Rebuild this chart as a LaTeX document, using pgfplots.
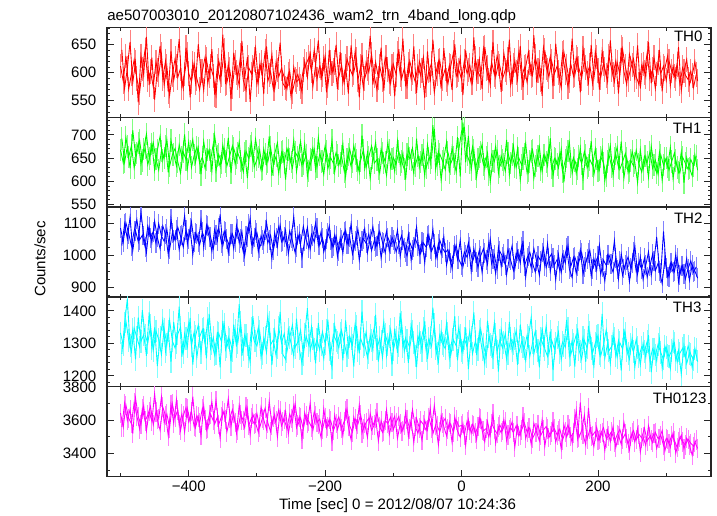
\documentclass[border=0pt]{standalone}
\usepackage{fontspec}
\setmainfont{Liberation Sans}
\usepackage{pgfplots}
\usepackage{pgfplotstable}
\pgfplotsset{compat=1.18}

% two interleaved 4-s sample sets: set a starts at t=-500 s, set b at t=-498 s
\pgfplotstableread[row sep=\\,header=false]{
612\\585\\630\\571\\598\\623\\590\\565\\607\\641\\
588\\602\\575\\619\\596\\633\\578\\611\\560\\597\\
625\\592\\608\\573\\645\\599\\584\\616\\589\\570\\
603\\628\\581\\611\\594\\560\\622\\597\\640\\583\\
606\\575\\618\\592\\631\\587\\569\\609\\598\\624\\
579\\613\\596\\638\\585\\602\\571\\619\\593\\608\\
592\\571\\603\\566\\588\\597\\575\\606\\615\\627\\
603\\641\\589\\612\\596\\630\\577\\618\\604\\650\\
592\\614\\583\\625\\608\\596\\639\\587\\611\\573\\
619\\601\\633\\594\\570\\612\\588\\627\\606\\581\\
615\\597\\642\\589\\608\\576\\621\\600\\584\\612\\
595\\628\\579\\603\\617\\565\\598\\622\\590\\607\\
580\\611\\636\\594\\605\\588\\621\\599\\614\\583\\
626\\602\\591\\643\\608\\586\\619\\597\\630\\612\\
589\\605\\624\\578\\614\\600\\637\\592\\609\\583\\
618\\596\\629\\604\\587\\645\\610\\593\\621\\598\\
612\\586\\634\\601\\575\\616\\594\\627\\608\\590\\
623\\599\\613\\581\\638\\604\\592\\617\\595\\629\\
606\\584\\619\\597\\642\\611\\588\\608\\625\\593\\
579\\613\\601\\635\\590\\606\\572\\618\\599\\612\\
586\\621\\603\\594\\615\\580\\609\\596\\588\\603\\
574\\597\\
}\dAa
\pgfplotstableread[row sep=\\,header=false]{
641\\572\\608\\655\\583\\619\\547\\630\\596\\664\\
578\\627\\552\\605\\648\\590\\621\\566\\639\\587\\
612\\660\\574\\598\\633\\556\\617\\582\\651\\603\\
569\\624\\594\\642\\561\\611\\586\\668\\580\\615\\
553\\636\\600\\577\\657\\589\\628\\548\\610\\644\\
584\\618\\562\\647\\596\\633\\571\\605\\654\\581\\
573\\598\\557\\610\\584\\589\\566\\620\\592\\638\\
575\\614\\658\\587\\626\\565\\641\\599\\618\\571\\
637\\582\\611\\563\\649\\601\\624\\556\\632\\590\\
607\\666\\579\\619\\591\\645\\568\\628\\585\\612\\
558\\634\\597\\661\\576\\615\\589\\647\\564\\621\\
604\\555\\638\\583\\659\\598\\620\\572\\644\\587\\
613\\569\\651\\596\\627\\560\\640\\605\\582\\663\\
590\\624\\571\\646\\609\\578\\655\\593\\617\\566\\
635\\601\\659\\580\\622\\588\\648\\574\\611\\637\\
594\\667\\583\\618\\559\\640\\605\\629\\576\\652\\
600\\573\\637\\612\\586\\661\\596\\624\\565\\643\\
609\\582\\650\\591\\628\\570\\639\\606\\584\\658\\
597\\621\\563\\645\\602\\579\\633\\614\\588\\649\\
572\\616\\593\\655\\581\\627\\598\\641\\567\\608\\
630\\577\\612\\589\\646\\568\\603\\624\\579\\595\\
620\\585\\
}\dAb
\pgfplotstableread[row sep=\\,header=false]{
668\\640\\695\\652\\677\\629\\661\\688\\645\\672\\
636\\659\\683\\648\\624\\666\\651\\690\\633\\657\\
671\\642\\618\\663\\647\\685\\630\\656\\674\\639\\
652\\628\\667\\645\\681\\622\\658\\640\\669\\633\\
655\\676\\637\\661\\644\\620\\665\\649\\683\\631\\
647\\668\\626\\659\\642\\673\\635\\654\\617\\662\\
640\\671\\648\\629\\663\\652\\686\\638\\657\\623\\
646\\669\\631\\658\\644\\677\\627\\651\\639\\662\\
634\\655\\621\\648\\670\\641\\659\\625\\645\\668\\
630\\653\\676\\639\\647\\618\\661\\642\\684\\629\\
651\\637\\664\\643\\626\\658\\649\\672\\634\\655\\
641\\667\\628\\650\\650\\713\\636\\659\\644\\625\\
662\\638\\653\\620\\669\\708\\716\\657\\640\\674\\
627\\648\\663\\636\\652\\615\\658\\643\\666\\632\\
646\\622\\661\\639\\677\\630\\650\\635\\659\\618\\
643\\668\\633\\654\\624\\656\\641\\673\\628\\649\\
636\\660\\621\\645\\666\\632\\651\\617\\655\\638\\
664\\629\\647\\634\\670\\623\\652\\640\\611\\658\\
631\\649\\674\\626\\642\\660\\619\\645\\633\\667\\
637\\620\\654\\641\\663\\628\\646\\615\\657\\635\\
650\\624\\643\\661\\630\\618\\652\\639\\626\\647\\
633\\655\\
}\dBa
\pgfplotstableread[row sep=\\,header=false]{
692\\641\\675\\628\\710\\656\\683\\637\\669\\702\\
649\\681\\624\\667\\697\\645\\676\\619\\688\\658\\
633\\679\\652\\701\\627\\664\\690\\641\\672\\615\\
686\\647\\668\\622\\699\\655\\632\\678\\643\\694\\
618\\671\\650\\685\\629\\661\\607\\676\\645\\691\\
653\\624\\670\\638\\697\\612\\659\\683\\631\\664\\
604\\668\\642\\689\\621\\657\\634\\680\\611\\647\\
672\\626\\694\\643\\615\\665\\637\\688\\620\\656\\
639\\681\\610\\658\\632\\677\\645\\619\\699\\628\\
662\\606\\651\\684\\626\\670\\640\\613\\667\\648\\
621\\687\\635\\660\\604\\671\\646\\617\\692\\630\\
657\\612\\679\\640\\721\\626\\664\\603\\650\\685\\
619\\673\\637\\695\\610\\727\\641\\698\\624\\668\\
609\\652\\680\\627\\661\\600\\644\\676\\618\\655\\
636\\689\\614\\658\\631\\671\\603\\649\\682\\622\\
664\\607\\645\\675\\621\\657\\633\\693\\611\\648\\
629\\669\\598\\652\\684\\617\\645\\626\\672\\605\\
656\\634\\687\\614\\648\\625\\669\\601\\643\\677\\
612\\659\\630\\686\\607\\651\\622\\665\\640\\597\\
668\\625\\654\\609\\676\\635\\618\\662\\602\\649\\
631\\673\\606\\645\\620\\663\\597\\651\\628\\612\\
657\\624\\
}\dBb
\pgfplotstableread[row sep=\\,header=false]{
1085\\1042\\1101\\1068\\1030\\1076\\1112\\1049\\1063\\1027\\
1091\\1055\\1074\\1038\\1099\\1061\\1044\\1082\\1019\\1070\\
1047\\1088\\1060\\1026\\1079\\1052\\1105\\1041\\1066\\1033\\
1072\\1049\\1093\\1058\\1021\\1064\\1087\\1039\\1075\\1050\\
1028\\1067\\1041\\1083\\1053\\1010\\1062\\1097\\1035\\1056\\
1071\\1024\\1048\\1080\\1039\\1063\\1017\\1055\\1090\\1043\\
1058\\1029\\1076\\1045\\1008\\1062\\1037\\1091\\1050\\1023\\
1066\\1041\\1085\\1032\\1054\\1019\\1070\\1047\\1028\\1061\\
1012\\1049\\1073\\1035\\1057\\1004\\1044\\1081\\1026\\1052\\
1038\\1067\\1015\\1046\\1029\\1075\\1041\\1008\\1056\\1034\\
1047\\1011\\1036\\1062\\1024\\998\\1041\\1018\\1053\\1030\\
1005\\1039\\1026\\1064\\1013\\1035\\991\\1048\\1022\\1009\\
1018\\976\\1003\\1032\\987\\969\\1011\\994\\1026\\980\\
1007\\962\\999\\1021\\985\\1040\\974\\1002\\957\\1013\\
996\\971\\1019\\984\\953\\1007\\989\\1028\\966\\992\\
1010\\975\\948\\998\\983\\1023\\962\\991\\1005\\970\\
987\\952\\1003\\976\\1031\\965\\993\\944\\981\\1009\\
963\\990\\1016\\958\\978\\997\\941\\985\\969\\1002\\
974\\1046\\956\\983\\938\\970\\995\\961\\1012\\949\\
978\\957\\991\\932\\966\\1004\\952\\975\\945\\1075\\
961\\933\\978\\950\\992\\940\\968\\926\\959\\983\\
947\\964\\
}\dCa
\pgfplotstableread[row sep=\\,header=false]{
1031\\1098\\1052\\1120\\1015\\1077\\1043\\1134\\1062\\1009\\
1088\\1040\\1107\\1056\\1021\\1092\\1067\\1003\\1115\\1048\\
1079\\1018\\1063\\1124\\1036\\1085\\1002\\1069\\1041\\1110\\
1025\\1094\\1057\\1013\\1081\\1046\\1128\\1030\\1072\\1008\\
1066\\1021\\1093\\1039\\1075\\998\\1057\\1116\\1026\\1080\\
1012\\1061\\1034\\1104\\1049\\990\\1071\\1028\\1095\\1044\\
1079\\1005\\1053\\1121\\1027\\1068\\993\\1046\\1087\\1019\\
1060\\1101\\1032\\1074\\1011\\1050\\1092\\1024\\1064\\997\\
1055\\1007\\1078\\1036\\1099\\1018\\1062\\985\\1044\\1083\\
1009\\1051\\1090\\1026\\1068\\992\\1040\\1075\\1014\\1057\\
1034\\1079\\996\\1049\\1011\\1066\\985\\1027\\1088\\1003\\
1042\\977\\1061\\1019\\1082\\995\\1037\\1004\\1058\\970\\
1012\\958\\1030\\987\\1047\\964\\1003\\1039\\951\\1021\\
980\\1016\\947\\1008\\972\\1051\\989\\943\\1025\\966\\
1006\\940\\991\\1030\\957\\1014\\976\\1046\\933\\998\\
962\\1021\\981\\938\\1009\\968\\1036\\950\\993\\924\\
1002\\946\\986\\1024\\957\\931\\995\\968\\1017\\941\\
979\\1008\\935\\990\\954\\1032\\962\\920\\1000\\973\\
948\\991\\927\\1005\\959\\984\\918\\977\\1030\\942\\
996\\925\\969\\1011\\938\\982\\1058\\951\\912\\988\\
934\\975\\948\\1003\\917\\966\\941\\990\\922\\970\\
951\\929\\
}\dCb
\pgfplotstableread[row sep=\\,header=false]{
1332\\1295\\1368\\1310\\1274\\1347\\1318\\1289\\1402\\1326\\
1301\\1355\\1279\\1338\\1312\\1265\\1344\\1296\\1371\\1307\\
1286\\1329\\1350\\1272\\1315\\1361\\1293\\1335\\1258\\1320\\
1342\\1299\\1376\\1284\\1318\\1267\\1331\\1305\\1359\\1290\\
1313\\1277\\1340\\1302\\1366\\1281\\1324\\1259\\1345\\1307\\
1292\\1337\\1270\\1320\\1384\\1296\\1311\\1263\\1348\\1301\\
1330\\1275\\1318\\1357\\1288\\1305\\1341\\1266\\1323\\1294\\
1352\\1283\\1312\\1279\\1336\\1298\\1373\\1268\\1327\\1309\\
1286\\1340\\1301\\1262\\1322\\1295\\1361\\1278\\1315\\1290\\
1335\\1271\\1308\\1349\\1283\\1317\\1256\\1329\\1297\\1342\\
1280\\1318\\1294\\1366\\1275\\1309\\1287\\1338\\1261\\1321\\
1303\\1345\\1278\\1314\\1291\\1357\\1269\\1326\\1299\\1284\\
1330\\1262\\1311\\1293\\1350\\1277\\1316\\1289\\1338\\1268\\
1305\\1282\\1344\\1296\\1259\\1321\\1290\\1363\\1274\\1309\\
1286\\1331\\1267\\1314\\1298\\1340\\1271\\1305\\1285\\1325\\
1260\\1302\\1337\\1279\\1316\\1292\\1354\\1268\\1310\\1283\\
1319\\1271\\1304\\1288\\1346\\1265\\1297\\1326\\1280\\1252\\
1309\\1286\\1333\\1270\\1301\\1324\\1262\\1295\\1341\\1277\\
1291\\1315\\1257\\1302\\1283\\1330\\1268\\1298\\1274\\1312\\
1260\\1289\\1275\\1306\\1248\\1283\\1264\\1297\\1271\\1252\\
1288\\1259\\1277\\1301\\1243\\1270\\1285\\1256\\1292\\1266\\
1249\\1281\\
}\dDa
\pgfplotstableread[row sep=\\,header=false]{
1268\\1361\\1437\\1293\\1342\\1251\\1380\\1306\\1327\\1262\\
1395\\1284\\1349\\1230\\1317\\1372\\1276\\1338\\1243\\1366\\
1301\\1413\\1259\\1330\\1289\\1378\\1235\\1323\\1356\\1271\\
1347\\1254\\1391\\1298\\1264\\1335\\1226\\1369\\1281\\1318\\
1245\\1358\\1290\\1421\\1262\\1326\\1296\\1242\\1384\\1307\\
1349\\1257\\1315\\1272\\1365\\1233\\1339\\1288\\1397\\1266\\
1251\\1343\\1300\\1260\\1376\\1285\\1238\\1329\\1408\\1277\\
1314\\1239\\1362\\1295\\1253\\1341\\1281\\1226\\1355\\1303\\
1332\\1248\\1371\\1287\\1314\\1229\\1353\\1269\\1398\\1296\\
1257\\1325\\1280\\1388\\1244\\1306\\1367\\1262\\1321\\1235\\
1346\\1271\\1394\\1289\\1317\\1240\\1359\\1302\\1227\\1331\\
1278\\1369\\1252\\1318\\1410\\1283\\1243\\1337\\1294\\1362\\
1255\\1311\\1384\\1248\\1325\\1272\\1349\\1221\\1318\\1395\\
1264\\1336\\1281\\1237\\1370\\1297\\1256\\1328\\1213\\1343\\
1303\\1252\\1366\\1277\\1315\\1234\\1358\\1289\\1247\\1320\\
1380\\1268\\1306\\1226\\1349\\1282\\1260\\1337\\1218\\1301\\
1335\\1250\\1293\\1372\\1261\\1309\\1229\\1346\\1276\\1318\\
1243\\1354\\1284\\1230\\1322\\1269\\1391\\1255\\1300\\1238\\
1329\\1262\\1308\\1216\\1345\\1279\\1251\\1317\\1227\\1288\\
1234\\1300\\1257\\1325\\1211\\1283\\1246\\1314\\1224\\1292\\
1263\\1222\\1306\\1249\\1279\\1205\\1294\\1238\\1270\\1226\\
1285\\1244\\
}\dDb
\pgfplotstableread[row sep=\\,header=false]{
3642\\3558\\3690\\3611\\3579\\3705\\3624\\3547\\3668\\3596\\
3631\\3683\\3572\\3650\\3609\\3740\\3585\\3637\\3554\\3698\\
3616\\3662\\3538\\3627\\3675\\3590\\3652\\3561\\3628\\3584\\
3671\\3602\\3549\\3636\\3597\\3718\\3574\\3621\\3648\\3530\\
3609\\3663\\3586\\3542\\3635\\3599\\3681\\3568\\3614\\3577\\
3640\\3555\\3612\\3673\\3584\\3531\\3620\\3597\\3662\\3566\\
3605\\3549\\3637\\3589\\3700\\3571\\3614\\3548\\3628\\3592\\
3559\\3651\\3586\\3607\\3543\\3613\\3561\\3598\\3537\\3582\\
3620\\3551\\3594\\3668\\3565\\3529\\3608\\3577\\3633\\3548\\
3586\\3612\\3539\\3571\\3645\\3560\\3527\\3598\\3581\\3619\\
3544\\3587\\3623\\3532\\3570\\3605\\3548\\3664\\3563\\3521\\
3596\\3575\\3539\\3617\\3552\\3688\\3566\\3531\\3584\\3610\\
3547\\3578\\3526\\3601\\3563\\3568\\3512\\3594\\3540\\3575\\
3523\\3561\\3607\\3535\\3550\\3499\\3582\\3546\\3519\\3571\\
3538\\3592\\3511\\3554\\3527\\3566\\3505\\3541\\3583\\3529\\
3553\\3490\\3526\\3571\\3508\\3542\\3562\\3495\\3529\\3548\\
3512\\3547\\3481\\3530\\3572\\3501\\3524\\3660\\3496\\3538\\
3630\\3486\\3543\\3509\\3532\\3478\\3521\\3555\\3492\\3506\\
3531\\3470\\3512\\3545\\3488\\3519\\3460\\3501\\3538\\3483\\
3515\\3494\\3552\\3476\\3503\\3465\\3527\\3489\\3510\\3447\\
3491\\3462\\3508\\3479\\3436\\3497\\3470\\3452\\3486\\3461\\
3444\\3482\\
}\dEa
\pgfplotstableread[row sep=\\,header=false]{
3560\\3702\\3598\\3664\\3519\\3733\\3621\\3575\\3688\\3537\\
3651\\3594\\3758\\3603\\3540\\3679\\3628\\3506\\3695\\3582\\
3724\\3571\\3639\\3529\\3670\\3593\\3741\\3557\\3620\\3508\\
3686\\3544\\3632\\3710\\3577\\3618\\3491\\3659\\3604\\3729\\
3566\\3641\\3523\\3690\\3598\\3554\\3667\\3512\\3637\\3583\\
3528\\3679\\3602\\3546\\3714\\3570\\3635\\3499\\3657\\3591\\
3653\\3518\\3611\\3687\\3556\\3620\\3487\\3645\\3579\\3702\\
3538\\3629\\3574\\3495\\3668\\3552\\3607\\3471\\3631\\3544\\
3593\\3508\\3656\\3561\\3482\\3619\\3547\\3690\\3523\\3579\\
3497\\3640\\3568\\3611\\3475\\3598\\3536\\3662\\3512\\3587\\
3625\\3491\\3578\\3536\\3647\\3502\\3593\\3465\\3611\\3554\\
3480\\3600\\3542\\3673\\3519\\3571\\3453\\3628\\3560\\3506\\
3588\\3467\\3620\\3535\\3498\\3579\\3449\\3602\\3521\\3566\\
3483\\3614\\3540\\3471\\3592\\3510\\3637\\3461\\3559\\3525\\
3603\\3478\\3545\\3589\\3437\\3568\\3512\\3620\\3490\\3553\\
3455\\3581\\3528\\3476\\3601\\3444\\3547\\3507\\3589\\3468\\
3536\\3428\\3573\\3499\\3550\\3465\\3612\\3492\\3707\\3515\\
3451\\3674\\3501\\3442\\3558\\3483\\3527\\3419\\3540\\3472\\
3563\\3436\\3508\\3455\\3587\\3490\\3421\\3526\\3468\\3549\\
3409\\3502\\3447\\3566\\3481\\3520\\3430\\3491\\3538\\3415\\
3486\\3437\\3525\\3402\\3474\\3510\\3428\\3493\\3449\\3390\\
3467\\3431\\
}\dEb

\pgfplotsset{
  panel/.style={
    scale only axis, width=453pt, height=67.35pt,
    xmin=-519.8, xmax=365.6,
    axis line style={black!85, line width=1.1pt},
    tick style={black!85, line width=0.7pt},
    major tick length=5pt, minor tick length=2.5pt,
    tick align=inside, tick pos=both,
    xtick={-400,-200,0,200}, minor xtick={-500,-300,-100,100,300},
    xticklabels={},
    yticklabel style={xshift=-4.5pt},
    every tick label/.append style={font=\fontsize{11.3}{13}\selectfont},
    /pgf/number format/assume math mode=true,
    clip=true, clip marker paths=true,
  },
  % light vertical bar of +-1 sigma drawn as a '|' mark whose half length equals the error
  errb/.style 2 args={draw=#1, color=#1, only marks, mark=|, mark size=#2, forget plot,
    mark options={line width=0.8pt, draw=#1},
    every mark/.append style={draw=#1}},
  dline/.style={color=#1, line width=0.65pt, mark=none},
}
\newcommand\series[5]{%
  \addplot[errb={#3}{#5}] table[x expr=\coordindex*4-500, y index=0] {#1};
  \addplot[errb={#3}{#5}] table[x expr=\coordindex*4-498, y index=0] {#2};
  \addplot[dline=#4] table[x expr=\coordindex*4-500, y index=0] {#1};
  \addplot[dline=#4] table[x expr=\coordindex*4-498, y index=0] {#2};
}
\definecolor{cR}{RGB}{255,0,0}
\definecolor{cG}{RGB}{0,255,0}
\definecolor{cB}{RGB}{0,0,255}
\definecolor{cC}{RGB}{0,255,255}
\definecolor{cM}{RGB}{255,0,255}
\definecolor{lR}{RGB}{255,128,128}
\definecolor{lG}{RGB}{128,255,128}
\definecolor{lB}{RGB}{128,128,255}
\definecolor{lC}{RGB}{128,255,255}
\definecolor{lM}{RGB}{255,128,255}

\begin{document}
\begin{tikzpicture}[font=\fontsize{11.3}{13}\selectfont]
\useasboundingbox (-80.25pt,20.625pt) rectangle (457.5pt,-366.375pt);

% errors: TH0 22, TH1 24, TH2 31, TH3 35, TH0123 58 counts/s (as half bar lengths in pt)
\begin{axis}[panel, at={(0pt,0pt)}, anchor=north west,
  ymin=520.5, ymax=680.9, ytick={550,600,650}, minor ytick={530,540,...,680},
  yticklabels={550,600,650}]
\series{\dAa}{\dAb}{lR}{cR}{9.24pt}
\node[anchor=north east, inner sep=0pt, xshift=-6.2pt, yshift=-2.2pt] at (rel axis cs:1,1) {TH0};
\end{axis}

\begin{axis}[panel, at={(0pt,-67.35pt)}, anchor=north west,
  ymin=544.6, ymax=737.9, ytick={550,600,650,700}, minor ytick={560,570,...,730},
  yticklabels={550,600,650,700}]
\series{\dBa}{\dBb}{lG}{cG}{8.36pt}
\node[anchor=north east, inner sep=0pt, xshift=-7pt, yshift=-4.5pt] at (rel axis cs:1,1) {TH1};
\end{axis}

\begin{axis}[panel, at={(0pt,-134.7pt)}, anchor=north west,
  ymin=870.3, ymax=1150.9, ytick={900,1000,1100}, minor ytick={875,925,950,...,1150},
  yticklabels={900,1000,1100}]
\series{\dCa}{\dCb}{lB}{cB}{7.44pt}
\node[anchor=north east, inner sep=0pt, xshift=-6.2pt, yshift=-4.5pt] at (rel axis cs:1,1) {TH2};
\end{axis}

\begin{axis}[panel, at={(0pt,-202.05pt)}, anchor=north west,
  ymin=1166.8, ymax=1443, ytick={1200,1300,1400}, minor ytick={1180,1200,...,1440},
  yticklabels={1200,1300,1400}]
\series{\dDa}{\dDb}{lC}{cC}{8.53pt}
\node[anchor=north east, inner sep=0pt, xshift=-7pt, yshift=-3.75pt] at (rel axis cs:1,1) {TH3};
\end{axis}

\begin{axis}[panel, at={(0pt,-269.4pt)}, anchor=north west,
  ymin=3262, ymax=3801, ytick={3400,3600,3800}, minor ytick={3300,3500,3700},
  yticklabels={3400,3600,3800},
  xticklabels={−400,−200,0,200}]
\series{\dEa}{\dEb}{lM}{cM}{7.25pt}
\node[anchor=north east, inner sep=0pt, xshift=-3.2pt, yshift=-4.7pt] at (rel axis cs:1,1) {TH0123};
\end{axis}

\node[anchor=base west, inner sep=0pt] at (0pt,5.25pt) {ae507003010\_20120807102436\_wam2\_trn\_4band\_long.qdp};
\node[rotate=90, inner sep=0pt] at (-50.25pt,-173.6pt) {Counts/sec};
\node[inner sep=0pt] at (217.9pt,-358.9pt) {Time [sec] 0 = 2012/08/07 10:24:36};
\end{tikzpicture}
\end{document}
